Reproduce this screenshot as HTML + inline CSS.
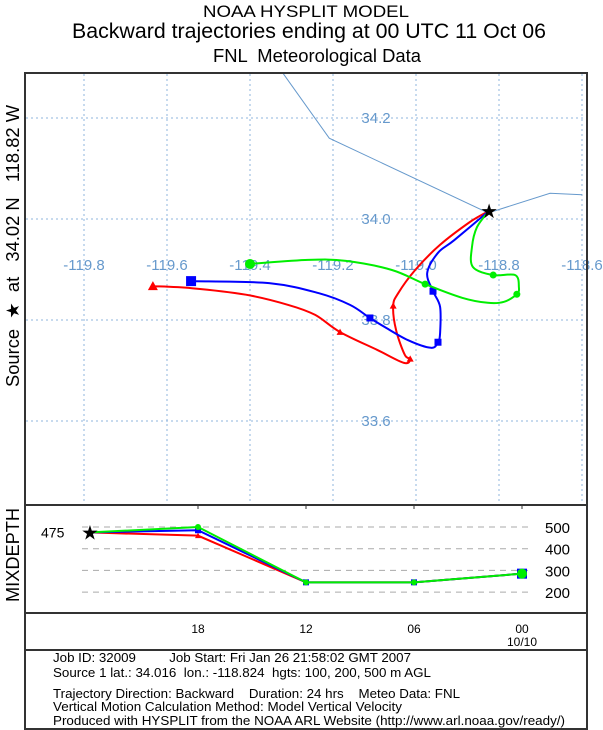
<!DOCTYPE html>
<html><head><meta charset="utf-8"><style>
html,body{margin:0;padding:0;background:#fff;}
svg{display:block;font-family:"Liberation Sans",sans-serif;}
text{white-space:pre;}
</style></head><body>
<svg id="c" width="603" height="730" viewBox="0 0 603 730" xmlns="http://www.w3.org/2000/svg" xml:space="preserve">
<text x="306" y="17" font-size="17" text-anchor="middle" textLength="206" lengthAdjust="spacingAndGlyphs">NOAA HYSPLIT MODEL</text>
<text x="309" y="38" font-size="21" text-anchor="middle" textLength="474" lengthAdjust="spacingAndGlyphs">Backward trajectories ending at 00 UTC 11 Oct 06</text>
<text x="317" y="62" font-size="18" text-anchor="middle" textLength="208" lengthAdjust="spacingAndGlyphs">FNL  Meteorological Data</text>
<text transform="translate(19,246) rotate(-90)" font-size="18" text-anchor="middle" textLength="282" lengthAdjust="spacingAndGlyphs">Source  ★  at   34.02 N   118.82 W</text>
<text transform="translate(19,555) rotate(-90)" font-size="18" text-anchor="middle" textLength="94" lengthAdjust="spacingAndGlyphs">MIXDEPTH</text>
<g id="map"></g>
<g id="mix"></g>
<rect x="25" y="73" width="562" height="656" fill="none" stroke="#333" stroke-width="2"/>
<line x1="25" y1="505" x2="587" y2="505" stroke="#333" stroke-width="2"/>
<line x1="25" y1="613" x2="587" y2="613" stroke="#333" stroke-width="2"/>
<line x1="25" y1="650" x2="587" y2="650" stroke="#333" stroke-width="2"/>
<g font-size="13">
<text x="53" y="662" textLength="358" lengthAdjust="spacingAndGlyphs">Job ID: 32009         Job Start: Fri Jan 26 21:58:02 GMT 2007</text>
<text x="53" y="677" textLength="378" lengthAdjust="spacingAndGlyphs">Source 1 lat.: 34.016  lon.: -118.824  hgts: 100, 200, 500 m AGL</text>
<text x="53" y="698" textLength="407" lengthAdjust="spacingAndGlyphs">Trajectory Direction: Backward    Duration: 24 hrs    Meteo Data: FNL</text>
<text x="53" y="711" textLength="349" lengthAdjust="spacingAndGlyphs">Vertical Motion Calculation Method: Model Vertical Velocity</text>
<text x="53" y="725" textLength="512" lengthAdjust="spacingAndGlyphs">Produced with HYSPLIT from the NOAA ARL Website (http://www.arl.noaa.gov/ready/)</text>
</g>
</svg>
<script>
const lonTicks=[-119.8,-119.6,-119.4,-119.2,-119.0,-118.8,-118.6];
const latTicks=[34.2,34.0,33.8,33.6];
const coastLon=[-119.320,-119.209,-118.826,-118.677,-118.600];
const coastLat=[34.288,34.160,34.012,34.051,34.048];
const source=[-118.824,34.016];
const redLon=[-118.824,-118.870,-118.942,-119.002,-119.043,-119.055,-119.048,-119.027,-119.014,-119.029,-119.094,-119.183,-119.243,-119.308,-119.410,-119.540,-119.634];
const redLat=[34.016,33.994,33.949,33.899,33.853,33.828,33.780,33.731,33.723,33.715,33.741,33.776,33.810,33.830,33.850,33.863,33.867];
const redMarks=[5,8,11,16];
const blueLon=[-118.824,-118.908,-118.947,-118.973,-118.959,-118.942,-118.942,-118.947,-118.964,-119.019,-119.075,-119.111,-119.159,-119.234,-119.354,-119.542];
const blueLat=[34.016,33.958,33.933,33.893,33.857,33.826,33.774,33.756,33.745,33.760,33.786,33.804,33.830,33.853,33.873,33.877];
const blueMarks=[4,7,11,15];
const greenLon=[-118.824,-118.853,-118.865,-118.863,-118.814,-118.761,-118.752,-118.757,-118.788,-118.827,-118.889,-118.978,-119.058,-119.169,-119.260,-119.400];
const greenLat=[34.016,33.984,33.945,33.905,33.889,33.889,33.865,33.851,33.836,33.834,33.844,33.871,33.899,33.917,33.919,33.911];
const greenMarks=[4,7,11,15];
const mixHours=[24,18,12,6,0];
const mixRed=[475,460,245,245,285];
const mixBlue=[475,485,245,245,285];
const mixGreen=[475,500,245,245,285];
const mixTicks=[500,400,300,200];
const hourLabels=["18","12","06","00"];
const hourTickVals=[18,12,6,0];

const NS="http://www.w3.org/2000/svg";
const X=lon=>416+(lon+119)*415;
const Y=lat=>219-(lat-34)*505;
const MX=h=>522-h*18;
const MY=v=>527+(500-v)*0.217;
function mk(tag,at,parent){const e=document.createElementNS(NS,tag);for(const k in at)e.setAttribute(k,at[k]);parent.appendChild(e);return e;}
function smooth(pts){
  let d='M'+pts[0][0]+','+pts[0][1];
  for(let i=0;i<pts.length-1;i++){
    const p0=pts[i-1]||pts[i],p1=pts[i],p2=pts[i+1],p3=pts[i+2]||p2;
    const c1=[p1[0]+(p2[0]-p0[0])/6,p1[1]+(p2[1]-p0[1])/6];
    const c2=[p2[0]-(p3[0]-p1[0])/6,p2[1]-(p3[1]-p1[1])/6];
    d+=` C${c1[0].toFixed(1)},${c1[1].toFixed(1)} ${c2[0].toFixed(1)},${c2[1].toFixed(1)} ${p2[0].toFixed(1)},${p2[1].toFixed(1)}`;
  }
  return d;
}
const map=document.getElementById('map'), mix=document.getElementById('mix');
const gc='#6699cc';
lonTicks.forEach(t=>{
  const l=mk('line',{x1:X(t),y1:74,x2:X(t),y2:505,stroke:'#8fb4dd','stroke-dasharray':'2,3','stroke-width':1},map);
  
  
  const tx=mk('text',{x:X(t),y:270,'font-size':15,fill:gc,'text-anchor':'middle'},map);tx.textContent=t.toFixed(1);
  
  
});
latTicks.forEach(t=>{
  const l=mk('line',{x1:26,y1:Y(t),x2:586,y2:Y(t),stroke:'#8fb4dd','stroke-dasharray':'2,3','stroke-width':1},map);
  
  
  const tx=mk('text',{x:376,y:Y(t)+5,'font-size':15,fill:gc,'text-anchor':'middle'},map);tx.textContent=t.toFixed(1);
  
  
});
const coast=mk('polyline',{points:coastLon.map((v,i)=>X(v)+','+Y(coastLat[i])).join(' '),fill:'none',stroke:gc,'stroke-width':1},map);


function marker(x,y,type,col,size,parent){
  let e;
  if(type==='tri')e=mk('polygon',{points:`${x},${y-size} ${x-size},${y+size*0.8} ${x+size},${y+size*0.8}`,fill:col},parent);
  else if(type==='sq')e=mk('rect',{x:x-size,y:y-size,width:size*2,height:size*2,fill:col},parent);
  else e=mk('circle',{cx:x,cy:y,r:size,fill:col},parent);
  return e;
}
function traj(lons,lats,marks,col,type,name){
  const p=mk('path',{d:smooth(lons.map((v,i)=>[X(v),Y(lats[i])])),fill:'none',stroke:col,'stroke-width':2,'stroke-linejoin':'round'},map);
  
  
  marks.forEach((m,j)=>{const s=j===marks.length-1?5:3.5;const e=marker(X(lons[m]),Y(lats[m]),type,col,s,map);
    
    });
}
traj(redLon,redLat,redMarks,'#ff0000','tri','red-100m');
traj(blueLon,blueLat,blueMarks,'#0000ff','sq','blue-200m');
traj(greenLon,greenLat,greenMarks,'#00ee00','ci','green-500m');
const st=mk('text',{x:X(source[0]),y:Y(source[1])+7,'font-size':20,'text-anchor':'middle',fill:'#000'},map);st.textContent='★';



mixTicks.forEach(t=>{
  const l=mk('line',{x1:82,y1:MY(t),x2:530,y2:MY(t),stroke:'#aaa','stroke-dasharray':'6,5'},mix);
  
  
  const tx=mk('text',{x:545,y:MY(t)+6,'font-size':15},mix);tx.textContent=t;
  
  
});
hourTickVals.forEach((h,i)=>{
  const l=mk('line',{x1:MX(h),y1:505,x2:MX(h),y2:509,stroke:'#333'},mix);
  
  
  const tx=mk('text',{x:MX(h),y:633,'font-size':12,'text-anchor':'middle'},mix);tx.textContent=hourLabels[i];
  
  
});
const dl=mk('text',{x:522,y:646,'font-size':12,'text-anchor':'middle'},mix);dl.textContent='10/10';


const v0=mk('text',{x:41,y:MY(475)+5,'font-size':14},mix);v0.textContent='475';


function mline(vals,col,type,name){
  const p=mk('polyline',{points:vals.map((v,i)=>MX(mixHours[i])+','+MY(v)).join(' '),fill:'none',stroke:col,'stroke-width':2},mix);
  
  
  vals.forEach((v,i)=>{if(i===0)return;const e=marker(MX(mixHours[i]),MY(v),type,col,i===vals.length-1?5:3,mix);
    
    });
}
mline(mixRed,'#ff0000','tri','red');
mline(mixBlue,'#0000ff','sq','blue');
mline(mixGreen,'#00ee00','ci','green');
const s2=mk('text',{x:MX(24),y:MY(475)+7,'font-size':20,'text-anchor':'middle'},mix);s2.textContent='★';


</script>
</body></html>
